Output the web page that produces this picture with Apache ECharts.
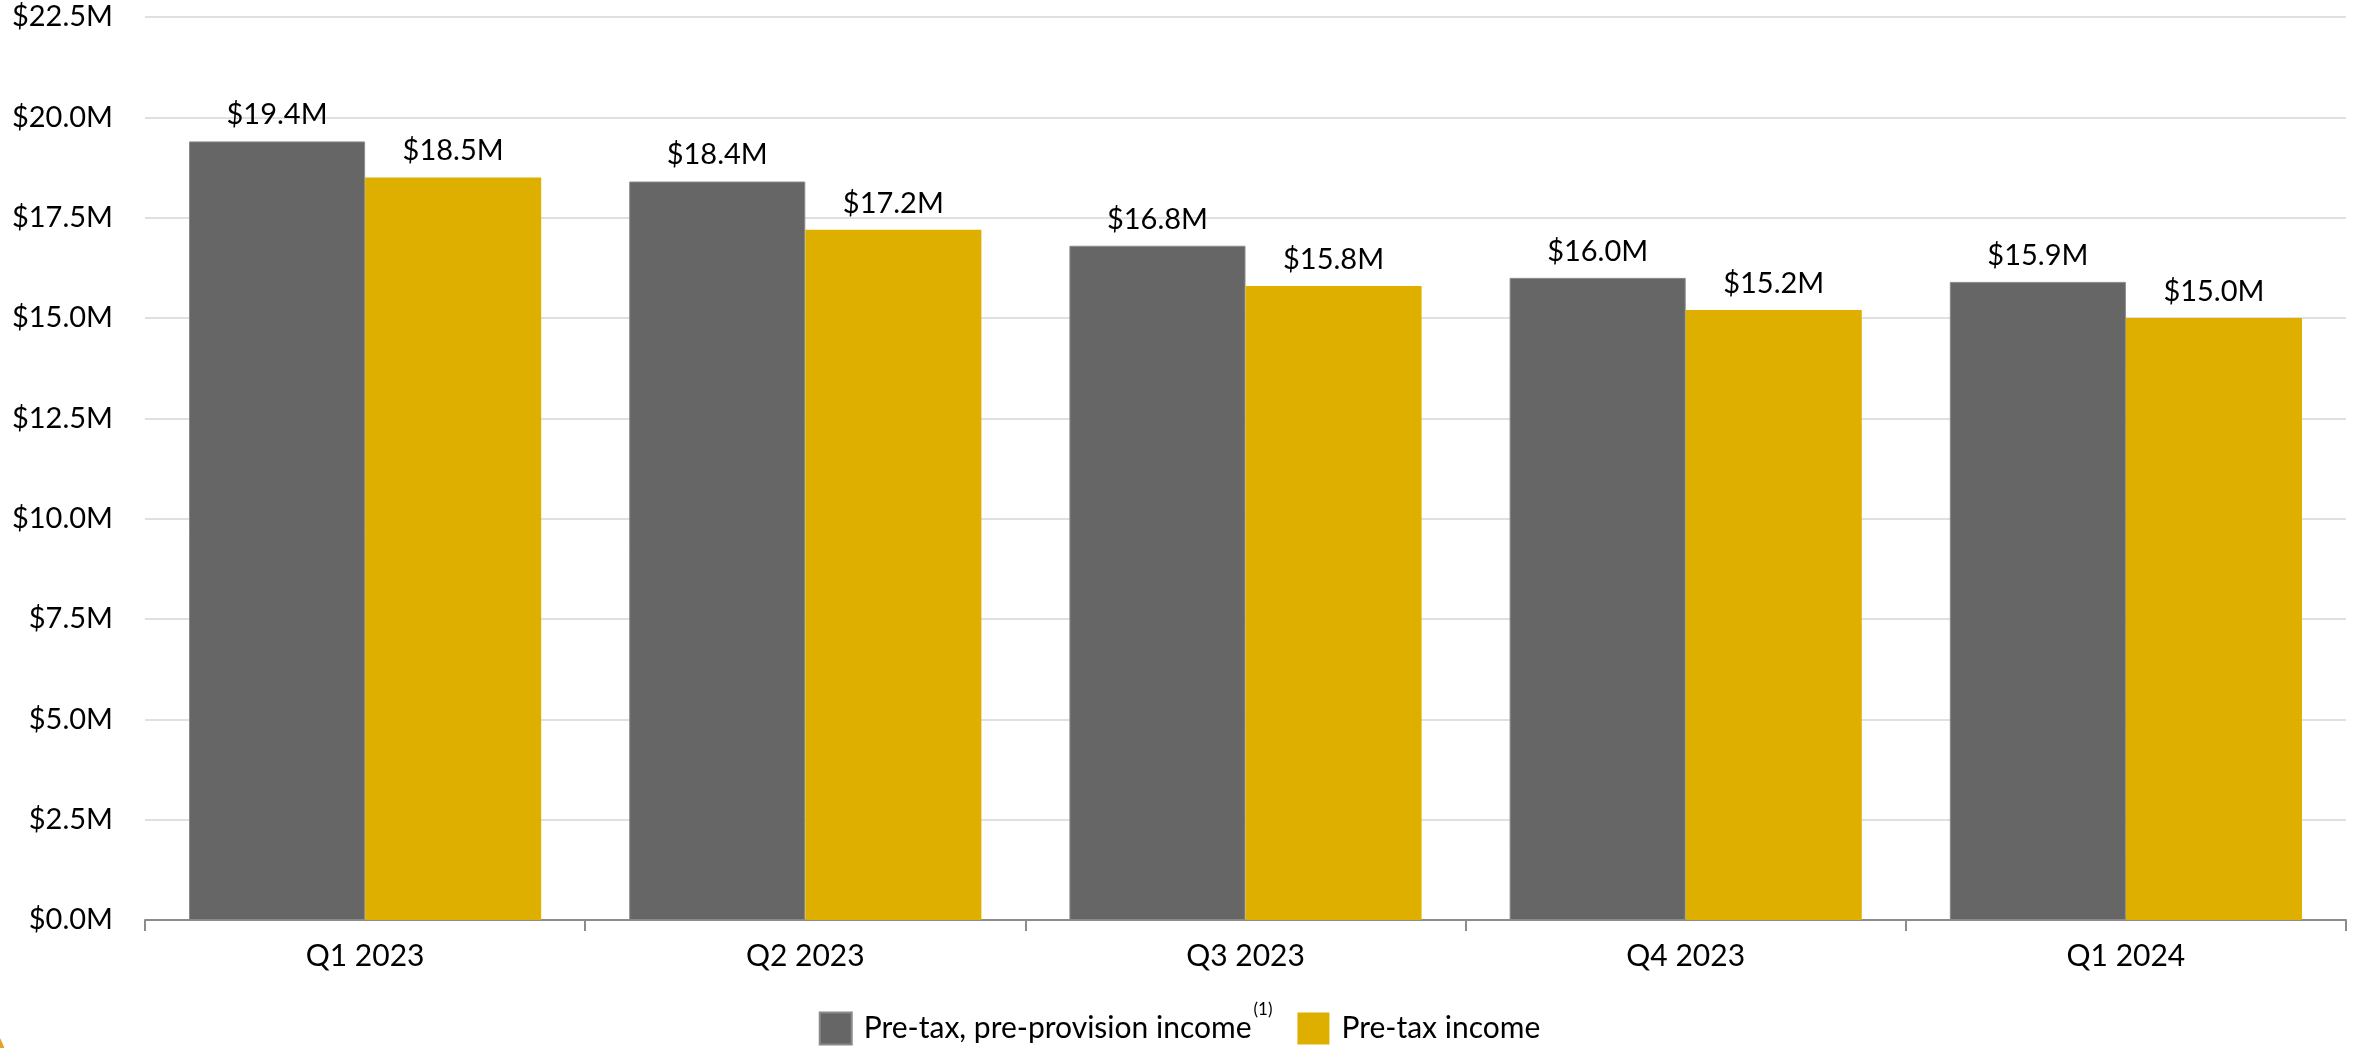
<!DOCTYPE html>
<html>
<head>
<meta charset="utf-8">
<title>Pre-tax income by quarter</title>
<script src="https://cdn.jsdelivr.net/npm/echarts@6/dist/echarts.min.js"></script>
<style>
  html, body { margin: 0; padding: 0; background: #ffffff; }
  #chart { width: 2359px; height: 1048px; }
</style>
</head>
<body>
<div id="chart"></div>
<script>
// Quarterly figures, in millions of dollars
const quarters = ['Q1 2023', 'Q2 2023', 'Q3 2023', 'Q4 2023', 'Q1 2024'];
const preTaxPreProvision = [19.4, 18.4, 16.8, 16.0, 15.9];
const preTaxIncome = [18.5, 17.2, 15.8, 15.2, 15.0];

const seriesNames = ['Pre-tax, pre-provision income', 'Pre-tax income'];

const FONT = 'Lato, "Open Sans", sans-serif';
const money = v => '$' + Number(v).toFixed(1) + 'M';

const chart = echarts.init(document.getElementById('chart'), null, { renderer: 'canvas' });

const labelStyle = {
  show: true,
  position: 'top',
  distance: 12,
  color: '#000000',
  fontFamily: FONT,
  fontSize: 29,
  formatter: p => money(p.value)
};

chart.setOption({
  backgroundColor: '#ffffff',
  animation: false,
  grid: { left: 145, right: 13, top: 17, bottom: 128, containLabel: false },
  legend: {
    data: seriesNames,
    left: 'center',
    top: 996,
    itemWidth: 32,
    itemHeight: 32,
    itemGap: 25,
    icon: 'rect',
    textStyle: {
      color: '#000000',
      fontFamily: FONT,
      fontSize: 30,
      padding: [0, 0, 0, 7],
      rich: {
        main: { fontFamily: FONT, fontSize: 30, color: '#000000' },
        sup: { fontFamily: FONT, fontSize: 17, color: '#000000', padding: [0, 0, 38, 2] }
      }
    },
    formatter: name => name === seriesNames[0]
      ? '{main|' + name + '}{sup|(1)}'
      : '{main|' + name + '}'
  },
  xAxis: {
    type: 'category',
    data: quarters,
    axisLine: { show: true, lineStyle: { color: '#8C8C8C', width: 2 } },
    axisTick: { show: true, length: 11, lineStyle: { color: '#8C8C8C', width: 2 } },
    axisLabel: { color: '#000000', fontFamily: FONT, fontSize: 30, margin: 21 },
    splitLine: { show: false }
  },
  yAxis: {
    type: 'value',
    min: 0,
    max: 22.5,
    interval: 2.5,
    axisLine: { show: false },
    axisTick: { show: false },
    axisLabel: {
      color: '#000000',
      fontFamily: FONT,
      fontSize: 29,
      margin: 32,
      formatter: v => money(v)
    },
    splitLine: { show: true, lineStyle: { color: '#E0E0E0', width: 2 } }
  },
  series: [
    {
      name: seriesNames[0],
      type: 'bar',
      data: preTaxPreProvision,
      barGap: '0%',
      barCategoryGap: '20%',
      itemStyle: { color: '#666666', borderColor: '#8A8A8A', borderWidth: 1 },
      label: labelStyle
    },
    {
      name: seriesNames[1],
      type: 'bar',
      data: preTaxIncome,
      barGap: '0%',
      barCategoryGap: '20%',
      itemStyle: { color: '#DFAF00' },
      label: labelStyle
    }
  ],
  graphic: [
    {
      // corner accent of the slide
      type: 'circle',
      shape: { cx: -60, cy: 1070, r: 68 },
      style: { fill: '#E2A52B' },
      silent: true
    }
  ]
});
</script>
</body>
</html>
